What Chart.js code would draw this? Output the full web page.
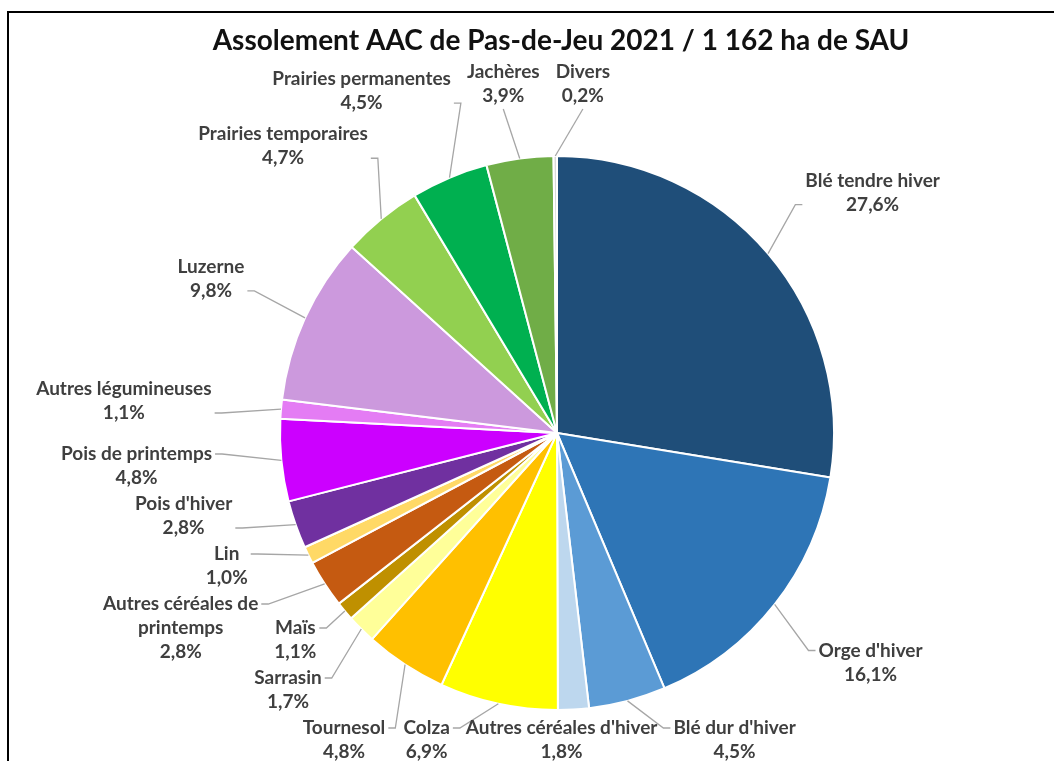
<!DOCTYPE html>
<html>
<head>
<meta charset="utf-8">
<script src="https://cdn.jsdelivr.net/npm/chart.js@4.4.1/dist/chart.umd.min.js"></script>
<style>
  html, body { margin: 0; padding: 0; background: #fff; overflow: hidden; }
  #frame { position: absolute; left: 7px; top: 11px; width: 1100px; height: 800px;
           border-left: 2px solid #000; border-top: 2px solid #000; }
  #myChart { position: absolute; left: 0; top: 0; }
</style>
</head>
<body>
<div id="frame"></div>
<canvas id="myChart" width="1054" height="761"></canvas>
<script>
const title = 'Assolement AAC de Pas-de-Jeu 2021 / 1 162 ha de SAU';

const categories = [
  'Blé tendre hiver', "Orge d'hiver", "Blé dur d'hiver", "Autres céréales d'hiver",
  'Colza', 'Tournesol', 'Sarrasin', 'Maïs', 'Autres céréales de printemps', 'Lin',
  "Pois d'hiver", 'Pois de printemps', 'Autres légumineuses', 'Luzerne',
  'Prairies temporaires', 'Prairies permanentes', 'Jachères', 'Divers'
];
const shares = [27.6, 16.1, 4.5, 1.8, 6.9, 4.8, 1.7, 1.1, 2.8, 1.0, 2.8, 4.8, 1.1, 9.8, 4.7, 4.5, 3.9, 0.2];
const sliceColors = [
  '#1F4E79', '#2E75B6', '#5B9BD5', '#BDD7EE',
  '#FFFF00', '#FFC000', '#FFFF99', '#BF9000', '#C55A11', '#FFD966',
  '#7030A0', '#CC00FF', '#E47CF4', '#CC99DD',
  '#92D050', '#00B050', '#70AD47', '#D9D9D9'
];

const FONT = 'bold 19px Lato';
const LINE_H = 24;
const TOP_LIM = 60, BOT_LIM = 764, LEFT_LIM = 22, RIGHT_LIM = 1040;
const GAP_X = 16, GAP_Y = 2, MARGIN = 6;

let pie = { cx: 0, cy: 0, R: 0 };

function fmtPct(v) {
  return v.toFixed(1).replace('.', ',') + '%';
}

function wrapText(ctx, text, maxW) {
  const words = text.split(' ');
  const out = [];
  let cur = '';
  words.forEach(w => {
    const test = cur ? cur + ' ' + w : w;
    if (ctx.measureText(test).width > maxW && cur) {
      out.push(cur);
      cur = w;
    } else {
      cur = test;
    }
  });
  out.push(cur);
  return out;
}

function pieDist(it, x, y) {
  const nx = Math.min(Math.max(pie.cx, x - it.w / 2), x + it.w / 2);
  const ny = Math.min(Math.max(pie.cy, y - it.h / 2), y + it.h / 2);
  return { d: Math.hypot(nx - pie.cx, ny - pie.cy), nx, ny };
}

function fits(it, x, y) {
  if (x - it.w / 2 < LEFT_LIM || x + it.w / 2 > RIGHT_LIM) return false;
  if (y - it.h / 2 < TOP_LIM || y + it.h / 2 > BOT_LIM) return false;
  return pieDist(it, x, y).d >= pie.R + MARGIN - 0.5;
}

// push two overlapping label boxes apart, along the cheaper axis that stays free
function separate(A, B) {
  const ox = (A.w + B.w) / 2 + GAP_X - Math.abs(A.x - B.x);
  const oy = (A.h + B.h) / 2 + GAP_Y - Math.abs(A.y - B.y);
  if (ox <= 0 || oy <= 0) return;
  const tryAxis = isX => {
    const o = isX ? ox : oy;
    const s = isX ? (A.x < B.x ? -1 : 1) : (A.y < B.y ? -1 : 1);
    const mv = (it, amt) => isX ? [it.x + amt, it.y] : [it.x, it.y + amt];
    const a2 = mv(A, s * o / 2), b2 = mv(B, -s * o / 2);
    if (fits(A, ...a2) && fits(B, ...b2)) { [A.x, A.y] = a2; [B.x, B.y] = b2; return true; }
    const a3 = mv(A, s * o), b3 = mv(B, -s * o);
    if (fits(A, ...a3)) { [A.x, A.y] = a3; return true; }
    if (fits(B, ...b3)) { [B.x, B.y] = b3; return true; }
    return false;
  };
  if (ox < oy) { if (!tryAxis(true)) tryAxis(false); }
  else { if (!tryAxis(false)) tryAxis(true); }
}

// labels outside the pie with leader lines, positions worked out from the slice angles
const sliceLabels = {
  id: 'sliceLabels',
  afterDatasetsDraw(chart) {
    const ctx = chart.ctx;
    const meta = chart.getDatasetMeta(0);
    pie = { cx: meta.data[0].x, cy: meta.data[0].y, R: meta.data[0].outerRadius };
    const { cx, cy, R } = pie;
    ctx.save();
    ctx.font = FONT;

    const items = meta.data.map((arc, i) => {
      const a = (arc.startAngle + arc.endAngle) / 2;
      const lines = wrapText(ctx, categories[i], 200).concat(fmtPct(shares[i]));
      const w = Math.max(...lines.map(l => ctx.measureText(l).width));
      const h = lines.length * LINE_H;
      const ca = Math.cos(a), sa = Math.sin(a);
      return {
        a, lines, w, h,
        x: cx + ca * (R + 70) + ca * w / 2,
        y: cy + sa * (R + 70) + sa * h / 2,
        px: cx + ca * R,
        py: cy + sa * R
      };
    });

    const clampItem = it => {
      it.x = Math.min(Math.max(it.x, LEFT_LIM + it.w / 2), RIGHT_LIM - it.w / 2);
      it.y = Math.min(Math.max(it.y, TOP_LIM + it.h / 2), BOT_LIM - it.h / 2);
    };
    const awayFromPie = it => {
      const { d, nx, ny } = pieDist(it, it.x, it.y);
      if (d < R + MARGIN) {
        const ux = d > 0 ? (nx - cx) / d : Math.cos(it.a);
        const uy = d > 0 ? (ny - cy) / d : Math.sin(it.a);
        it.x += ux * (R + MARGIN - d);
        it.y += uy * (R + MARGIN - d);
      }
    };
    // bring every box on the page and off the pie first
    for (let k = 0; k < 20; k++) items.forEach(it => { clampItem(it); awayFromPie(it); });
    items.forEach(it => {
      // slide sideways if the page edge and the pie still squeeze it
      let step = 0;
      while (!fits(it, it.x, it.y) && step < 300) {
        it.x += Math.cos(it.a) >= 0 ? 1 : -1;
        clampItem(it); awayFromPie(it);
        step++;
      }
    });
    for (let iter = 0; iter < 400; iter++) {
      for (let i = 0; i < items.length; i++)
        for (let j = i + 1; j < items.length; j++) separate(items[i], items[j]);
    }

    // leader lines
    ctx.strokeStyle = '#A6A6A6';
    ctx.lineWidth = 1.3;
    items.forEach(it => {
      const top = it.y - it.h / 2;
      const cands = [];
      it.lines.forEach((l, k) => {
        const ly = top + LINE_H * (k + 0.5);
        cands.push({ x: it.x - it.w / 2 - 3, y: ly, tick: -7 });
        cands.push({ x: it.x + it.w / 2 + 3, y: ly, tick: 7 });
      });
      cands.push({ x: it.x, y: it.y + it.h / 2 + 1, tick: 0 });
      cands.push({ x: it.x, y: top - 1, tick: 0 });
      let best = cands[0], bd = Infinity;
      cands.forEach(c => {
        const d = Math.hypot(c.x - it.px, c.y - it.py);
        if (d < bd) { bd = d; best = c; }
      });
      if (bd < 20) return;
      ctx.beginPath();
      ctx.moveTo(it.px, it.py);
      if (best.tick) ctx.lineTo(best.x + best.tick, best.y);
      ctx.lineTo(best.x, best.y);
      ctx.stroke();
    });

    // texts
    ctx.fillStyle = '#3F3F3F';
    ctx.textAlign = 'center';
    ctx.textBaseline = 'middle';
    items.forEach(it => {
      const top = it.y - it.h / 2;
      it.lines.forEach((l, k) => ctx.fillText(l, it.x, top + LINE_H * (k + 0.5)));
    });

    // title
    ctx.font = 'bold 28px Lato';
    ctx.fillStyle = '#111';
    ctx.fillText(title, 561, 41);
    ctx.restore();
  }
};

const ctx = document.getElementById('myChart').getContext('2d');
const myChart = new Chart(ctx, {
  type: 'pie',
  data: {
    labels: categories,
    datasets: [{
      data: shares,
      backgroundColor: sliceColors,
      borderColor: '#ffffff',
      borderWidth: 2
    }]
  },
  options: {
    responsive: false,
    animation: false,
    layout: { padding: { left: 279, right: 219, top: 155, bottom: 50 } },
    plugins: {
      legend: { display: false },
      tooltip: { enabled: false },
      title: { display: false }
    }
  },
  plugins: [sliceLabels]
});
</script>
</body>
</html>
